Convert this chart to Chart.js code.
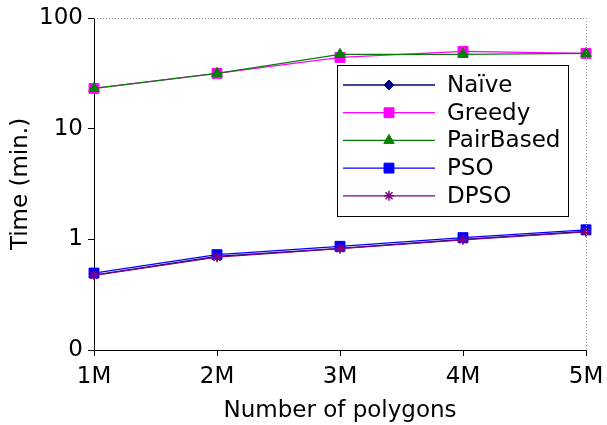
<!DOCTYPE html>
<html>
<head>
<meta charset="utf-8">
<script src="https://cdn.jsdelivr.net/npm/chart.js@4/dist/chart.umd.min.js"></script>
<style>
  html, body { margin: 0; padding: 0; background: #fff; }
  #wrap { width: 607px; height: 425px; }
</style>
</head>
<body>
<div id="wrap"><canvas id="timeChart" width="607" height="425"></canvas></div>
<script>
// values (minutes, log scale)
const categories = ['1M', '2M', '3M', '4M', '5M'];
const naive = [0.475, 0.70, 0.83, 1.0, 1.18];
const greedy = [23.1, 31.6, 44, 49.9, 47.9];
const pairBased = [23.1, 31.6, 46.9, 46.9, 47.9];
const pso = [0.496, 0.727, 0.865, 1.036, 1.22];
const dpso = [0.473, 0.69, 0.824, 0.99, 1.17];
const yTicks = [0.1, 1, 10, 100];
const yTickLabels = ['0', '1', '10', '100'];

const FONT = 'DejaVu Sans';
const FS = 23;

function series(label, data, color, style, radius, order) {
    return {
        label: label,
        data: data,
        borderColor: color,
        backgroundColor: color,
        pointBackgroundColor: color,
        pointBorderColor: color,
        pointStyle: style,
        pointRadius: radius,
        pointBorderWidth: style === 'star' ? 1.5 : 1,
        borderWidth: 1.3,
        tension: 0,
        order: order
    };
}

// legend box + dotted top/right frame
const frameAndLegend = {
    id: 'frameAndLegend',
    afterDatasetsDraw(chart) {
        const ctx = chart.ctx;
        const a = chart.chartArea;
        ctx.save();
        ctx.strokeStyle = '#999';
        ctx.lineWidth = 1;
        ctx.setLineDash([1, 2]);
        ctx.beginPath();
        ctx.moveTo(a.left, a.top + 0.5);
        ctx.lineTo(a.right + 0.5, a.top + 0.5);
        ctx.lineTo(a.right + 0.5, a.bottom);
        ctx.stroke();
        ctx.setLineDash([]);

        const bx = 337, by = 65, bw = 231, bh = 151;
        ctx.fillStyle = '#fff';
        ctx.fillRect(bx, by, bw, bh);
        ctx.strokeStyle = '#000';
        ctx.strokeRect(bx + 0.5, by + 0.5, bw, bh);

        ctx.font = FS + 'px "' + FONT + '"';
        ctx.textBaseline = 'middle';
        ctx.textAlign = 'left';
        chart.data.datasets.forEach((ds, i) => {
            const y = 85 + i * 27.7;
            ctx.strokeStyle = ds.borderColor;
            ctx.lineWidth = 1.3;
            ctx.beginPath();
            ctx.moveTo(343, y);
            ctx.lineTo(435, y);
            ctx.stroke();
            ctx.fillStyle = ds.borderColor;
            ctx.lineWidth = ds.pointBorderWidth;
            Chart.helpers.drawPoint(ctx, {
                pointStyle: ds.pointStyle,
                radius: ds.pointStyle === 'rectRot' ? 5 : ds.pointRadius,
                rotation: 0,
                borderWidth: ds.pointBorderWidth
            }, 389, y);
            ctx.fillStyle = '#000';
            ctx.fillText(ds.label, 447, y + 1);
        });
        ctx.restore();
    }
};

new Chart(document.getElementById('timeChart'), {
    type: 'line',
    data: {
        labels: categories,
        datasets: [
            series('Naïve', naive, '#000080', 'rectRot', 4, 5),
            series('Greedy', greedy, '#ff00ff', 'rect', 7, 4),
            series('PairBased', pairBased, '#008000', 'triangle', 6, 3),
            series('PSO', pso, '#0000ff', 'rect', 7, 2),
            series('DPSO', dpso, '#800080', 'star', 5, 1)
        ]
    },
    options: {
        responsive: false,
        animation: false,
        layout: { padding: { top: 18, right: 21, left: 0, bottom: 0 } },
        plugins: {
            legend: { display: false },
            tooltip: { enabled: false }
        },
        scales: {
            x: {
                type: 'category',
                offset: false,
                grid: { drawOnChartArea: false, color: '#000', tickLength: 6 },
                border: { color: '#000', width: 1 },
                ticks: { color: '#000', font: { family: FONT, size: FS }, padding: 7, maxRotation: 0 },
                title: { display: true, text: 'Number of polygons', color: '#000',
                         font: { family: FONT, size: FS }, padding: { top: 0, bottom: 0 } },
                afterFit(scale) {
                    scale.height = 75;
                    scale.paddingLeft = 0;
                    scale.paddingRight = 0;
                }
            },
            y: {
                type: 'logarithmic',
                min: 0.1,
                max: 100,
                grid: { drawOnChartArea: false, color: '#000', tickLength: 6 },
                border: { color: '#000', width: 1 },
                afterBuildTicks(scale) {
                    scale.ticks = yTicks.map(v => ({ value: v }));
                },
                ticks: {
                    color: '#000',
                    font: { family: FONT, size: FS },
                    padding: 5,
                    callback: (v) => yTickLabels[yTicks.indexOf(v)] ?? ''
                },
                title: { display: true, text: 'Time (min.)', color: '#000',
                         font: { family: FONT, size: FS }, padding: { top: 7, bottom: 0 } },
                afterFit(scale) {
                    scale.width = 94;
                    scale.paddingTop = 0;
                    scale.paddingBottom = 0;
                }
            }
        }
    },
    plugins: [frameAndLegend]
});
</script>
</body>
</html>
